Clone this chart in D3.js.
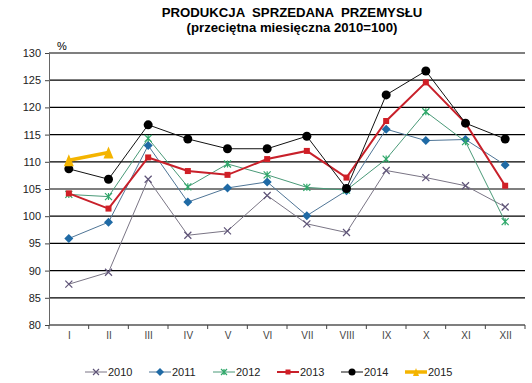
<!DOCTYPE html>
<html><head><meta charset="utf-8">
<script src="https://cdn.jsdelivr.net/npm/d3@7"></script>
<style>body{margin:0;background:#fff}svg{display:block;font-family:"Liberation Sans",Arial,sans-serif}</style>
</head><body><svg id="c" width="532" height="383"></svg>
<script>
const months = ["I","II","III","IV","V","VI","VII","VIII","IX","X","XI","XII"];
const yTicks = [80,85,90,95,100,105,110,115,120,125,130];
const v2010 = [87.5,89.7,106.8,96.5,97.3,103.8,98.6,97.0,108.4,107.1,105.6,101.7];
const v2011 = [95.9,98.9,113.0,102.6,105.2,106.3,100.1,104.7,116.0,113.9,114.1,109.4];
const v2012 = [104.0,103.6,114.3,105.4,109.6,107.6,105.3,104.8,110.5,119.2,113.7,99.0];
const v2013 = [104.2,101.4,110.8,108.3,107.6,110.5,112.0,107.1,117.5,124.6,117.1,105.6];
const v2014 = [108.7,106.8,116.8,114.2,112.4,112.4,114.7,105.1,122.3,126.7,117.1,114.2];
const v2015 = [110.3,111.7];
const seriesNames = ["2010","2011","2012","2013","2014","2015"];

const series = [
  {name:"2010", values:v2010, color:"#7a7585", mcolor:"#5f5478", w:1, marker:"x"},
  {name:"2011", values:v2011, color:"#4f7596", mcolor:"#1f6aa5", w:1, marker:"diamond"},
  {name:"2012", values:v2012, color:"#4a9a78", mcolor:"#2fa86a", w:1, marker:"star"},
  {name:"2013", values:v2013, color:"#c8202a", mcolor:"#d01f26", w:2, marker:"square"},
  {name:"2014", values:v2014, color:"#111", mcolor:"#000", w:1, marker:"circle"},
  {name:"2015", values:v2015, color:"#f4b400", mcolor:"#f4b400", w:3.5, marker:"triangle"}
];

const svg = d3.select("#c");
const L=49, R=525, T=53, B=325;
const x = d3.scalePoint().domain(months).range([L,R]).padding(0.5);
const y = d3.scaleLinear().domain([80,130]).range([B,T]);

// title
svg.append("text").attr("x",292).attr("y",17).attr("text-anchor","middle")
  .attr("font-size",13.2).attr("font-weight","bold").attr("xml:space","preserve").text("PRODUKCJA  SPRZEDANA  PRZEMYSŁU");
svg.append("text").attr("x",292).attr("y",32).attr("text-anchor","middle")
  .attr("font-size",13.2).attr("font-weight","bold").text("(przeciętna miesięczna 2010=100)");

// grid
svg.append("g").selectAll("line").data(yTicks).join("line")
  .attr("x1",L).attr("x2",R).attr("y1",d=>y(d)).attr("y2",d=>y(d))
  .attr("stroke","#000").attr("stroke-width",1.2);

// y axis
const ya = svg.append("g").attr("transform",`translate(${L},0)`)
  .call(d3.axisLeft(y).tickValues(yTicks).tickSize(4).tickPadding(4));
ya.select(".domain").attr("stroke","#666");
ya.selectAll("text").attr("font-size",11).attr("fill","#222").attr("font-family","Liberation Sans, Arial, sans-serif");
ya.selectAll(".tick line").attr("stroke","#444");
svg.append("text").attr("x",57).attr("y",50).attr("font-size",11).text("%");

// x axis
const xa = svg.append("g").attr("transform",`translate(0,${B})`)
  .call(d3.axisBottom(x).tickSize(0).tickPadding(7));
xa.select(".domain").remove();
xa.selectAll("text").attr("font-size",10).attr("fill","#444").attr("font-family","Liberation Sans, Arial, sans-serif");
const bw = x.step();
svg.append("g").selectAll("line").data(d3.range(13)).join("line")
  .attr("x1",i=>L+i*bw).attr("x2",i=>L+i*bw).attr("y1",B).attr("y2",B+4)
  .attr("stroke","#444");

function marker(g, type, color, size){
  const s=size;
  if(type==="x"){
    g.append("path").attr("d",`M${-s},${-s}L${s},${s}M${-s},${s}L${s},${-s}`).attr("stroke",color).attr("stroke-width",1.2).attr("fill","none");
  } else if(type==="diamond"){
    g.append("path").attr("d",`M0,${-s-1}L${s+1},0L0,${s+1}L${-s-1},0Z`).attr("fill",color);
  } else if(type==="star"){
    g.append("path").attr("d",`M${-s},${-s}L${s},${s}M${-s},${s}L${s},${-s}M0,${-s}L0,${s}`).attr("stroke",color).attr("stroke-width",1.2).attr("fill","none");
  } else if(type==="square"){
    g.append("rect").attr("x",-s+0.5).attr("y",-s+0.5).attr("width",2*s-1).attr("height",2*s-1).attr("fill",color);
  } else if(type==="circle"){
    g.append("circle").attr("r",s).attr("fill",color);
  } else if(type==="triangle"){
    g.append("path").attr("d",`M${-s-1},${s}L${s+1},${0}L${-s-1},${-s}Z`).attr("fill",color).attr("transform","rotate(-90)");
  }
}

const line = d3.line().x((d,i)=>x(months[i])).y(d=>y(d));
series.forEach(s=>{
  svg.append("path").datum(s.values).attr("d",line).attr("fill","none")
    .attr("stroke",s.color).attr("stroke-width",s.w);
});
series.forEach(s=>{
  s.values.forEach((v,i)=>{
    const g = svg.append("g").attr("transform",`translate(${x(months[i])},${y(v)})`);
    marker(g, s.marker, s.mcolor, s.marker==="circle"?4.5:(s.marker==="triangle"?5:3.5));
  });
});

// legend
const leg = svg.append("g");
series.forEach((s,i)=>{
  const lx = 85 + i*64, ly = 372;
  leg.append("line").attr("x1",lx).attr("x2",lx+22).attr("y1",ly).attr("y2",ly)
    .attr("stroke",s.color).attr("stroke-width",s.w);
  const g = leg.append("g").attr("transform",`translate(${lx+11},${ly})`);
  marker(g, s.marker, s.mcolor, s.marker==="circle"?3.5:3);
  leg.append("text").attr("x",lx+23).attr("y",ly+4).attr("font-size",11).attr("fill","#222").text(s.name);
});
</script></body></html>
